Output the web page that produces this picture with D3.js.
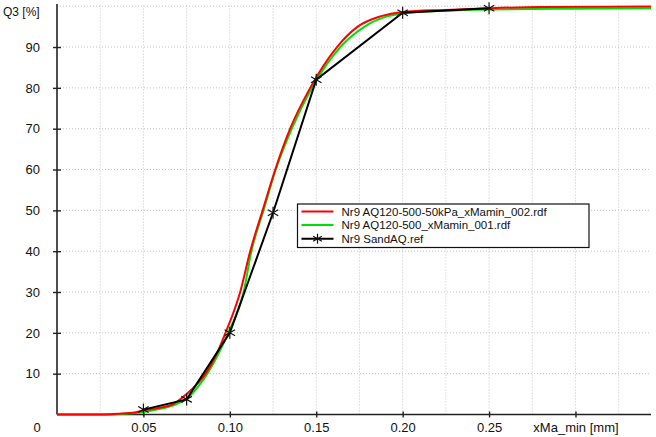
<!DOCTYPE html>
<html>
<head>
<meta charset="utf-8">
<script src="https://cdn.jsdelivr.net/npm/d3@7"></script>
<style>
  body { margin: 0; background: #fff; }
  svg { display: block; font-family: "Liberation Sans", Arial, sans-serif; }
</style>
</head>
<body>
<svg id="chart" width="656" height="437"></svg>
<script>
// data (x in mm, Q3 in %)
const redX = [0, 0.025, 0.035, 0.045, 0.05, 0.06, 0.067, 0.075, 0.08, 0.086, 0.092, 0.0975, 0.106, 0.1118, 0.119, 0.1263, 0.1349, 0.1465, 0.162, 0.174, 0.187, 0.2, 0.225, 0.25, 0.28, 0.3437]
const redY = [0, 0, 0.2, 0.5, 1.0, 1.7, 2.5, 5, 7, 10, 14.5, 20, 30, 40, 50, 60, 70, 80, 90, 95, 97.5, 98.6, 99.1, 99.5, 99.8, 99.9]
const greenX = [0, 0.03, 0.04, 0.05, 0.055, 0.062, 0.069, 0.078, 0.082, 0.087, 0.093, 0.099, 0.108, 0.1125, 0.1195, 0.1266, 0.1359, 0.1475, 0.164, 0.178, 0.191, 0.2, 0.225, 0.25, 0.3, 0.3437]
const greenY = [0, 0, 0.2, 0.6, 1.0, 1.6, 2.5, 5, 7, 10, 14.5, 20, 30, 40, 50, 60, 70, 80, 90, 95, 97.5, 98.2, 98.9, 99.2, 99.4, 99.5]
const refX = [0.05, 0.075, 0.1, 0.125, 0.15, 0.2, 0.25]
const refY = [1.2, 3.7, 20, 49.4, 82, 98.4, 99.5]

const legendNames = ['Nr9 AQ120-500-50kPa_xMamin_002.rdf', 'Nr9 AQ120-500_xMamin_001.rdf', 'Nr9 SandAQ.ref']
const seriesColors = ['#ff0000', '#00e000', '#000000']

const xTicks = [0.05, 0.10, 0.15, 0.20, 0.25]
const xGrid = [0.025, 0.05, 0.075, 0.1, 0.125, 0.15, 0.175, 0.2, 0.225, 0.25, 0.275, 0.3, 0.325]
const yTicks = [10, 20, 30, 40, 50, 60, 70, 80, 90]
const yGrid = [10, 20, 30, 40, 50, 60, 70, 80, 90, 100]

const svg = d3.select('#chart')
const x = d3.scaleLinear().domain([0, 0.3437]).range([57, 651])
const y = d3.scaleLinear().domain([0, 100]).range([414.5, 6.2])

// grid
svg.append('g').selectAll('line').data(xGrid).join('line')
  .attr('x1', d => x(d)).attr('x2', d => x(d))
  .attr('y1', y(0)).attr('y2', 4)
  .attr('stroke', '#c4c4c4').attr('stroke-dasharray', '1,2')
svg.append('g').selectAll('line').data(yGrid).join('line')
  .attr('x1', x(0)).attr('x2', x.range()[1])
  .attr('y1', d => y(d)).attr('y2', d => y(d))
  .attr('stroke', '#c4c4c4').attr('stroke-dasharray', '1,2')

// axes
const yAxis = svg.append('g').attr('transform', `translate(${x(0)},0)`)
  .call(d3.axisLeft(y).tickValues(yTicks).tickSize(4).tickSizeOuter(0).tickPadding(13))
yAxis.select('.domain').attr('d', `M0,${y(0)}V4`)
const xAxis = svg.append('g').attr('transform', `translate(0,${y(0)})`)
  .call(d3.axisBottom(x).tickValues(xTicks.concat([0.30])).tickFormat(d3.format('.2f')).tickSize(3).tickSizeOuter(0).tickPadding(5))
xAxis.select('.domain').attr('d', `M${x(0)},0H${x.range()[1]}`)
svg.selectAll('.domain').attr('stroke', '#222').attr('stroke-width', 1.6)
// ticks cross the axis line
yAxis.selectAll('.tick line').attr('x1', 4).attr('x2', -4).attr('stroke', '#222').attr('stroke-width', 1.4)
xAxis.selectAll('.tick line').attr('y1', -3).attr('y2', 3).attr('stroke', '#222').attr('stroke-width', 1.4)
svg.selectAll('.tick text').attr('font-size', 13).attr('font-family', '"Liberation Sans", Arial, sans-serif').attr('fill', '#111')
// last tick position carries the axis title
xAxis.selectAll('.tick text').filter(d => d === 0.30).text('xMa_min [mm]')

svg.append('text').attr('x', 37).attr('y', 432).attr('text-anchor', 'middle')
  .attr('font-size', 13).attr('fill', '#111').text('0')
svg.append('text').attr('x', 3).attr('y', 16)
  .attr('font-size', 12).attr('fill', '#111').text('Q3 [%]')

// series
const smooth = d3.line().x(d => x(d[0])).y(d => y(d[1])).curve(d3.curveMonotoneX)
const straight = d3.line().x(d => x(d[0])).y(d => y(d[1]))
svg.append('path').datum(d3.zip(greenX, greenY))
  .attr('fill', 'none').attr('stroke', seriesColors[1]).attr('stroke-width', 2).attr('d', smooth)
svg.append('path').datum(d3.zip(redX, redY))
  .attr('fill', 'none').attr('stroke', seriesColors[0]).attr('stroke-width', 2).attr('d', smooth)
const refData = d3.zip(refX, refY)
svg.append('path').datum(refData)
  .attr('fill', 'none').attr('stroke', seriesColors[2]).attr('stroke-width', 2).attr('d', straight)

function star(g, r) {
  g.append('line').attr('x1', 0).attr('x2', 0).attr('y1', -r).attr('y2', r)
  g.append('line').attr('x1', -r * 0.87).attr('x2', r * 0.87).attr('y1', -r * 0.5).attr('y2', r * 0.5)
  g.append('line').attr('x1', -r * 0.87).attr('x2', r * 0.87).attr('y1', r * 0.5).attr('y2', -r * 0.5)
  g.attr('stroke', '#111').attr('stroke-width', 1.2)
}
svg.append('g').selectAll('g').data(refData).join('g')
  .attr('transform', d => `translate(${x(d[0])},${y(d[1])})`)
  .each(function () { star(d3.select(this), 6) })

// legend
const lg = svg.append('g').attr('transform', 'translate(297.5,204)')
lg.append('rect').attr('width', 291.5).attr('height', 43.5)
  .attr('fill', '#fff').attr('stroke', '#111').attr('stroke-width', 1.2)
legendNames.forEach((name, i) => {
  const ly = 7.5 + i * 13.6
  lg.append('line').attr('x1', 4).attr('x2', 36).attr('y1', ly).attr('y2', ly)
    .attr('stroke', seriesColors[i]).attr('stroke-width', 2)
  if (i === 2) star(lg.append('g').attr('transform', `translate(20,${ly})`), 5)
  lg.append('text').attr('x', 44).attr('y', ly + 4).attr('font-size', 11.5)
    .attr('fill', '#111').text(name)
})
</script>
</body>
</html>
